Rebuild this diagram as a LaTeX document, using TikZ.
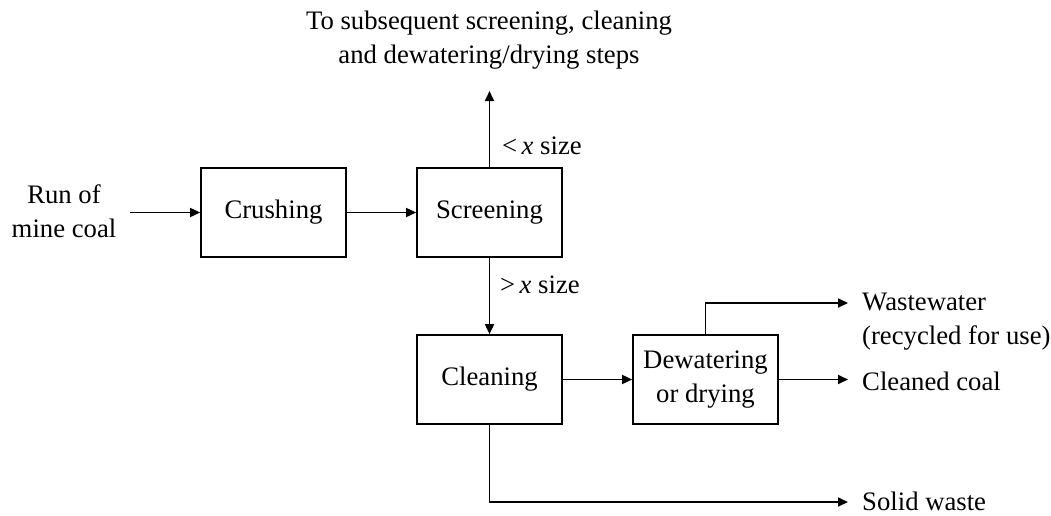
\documentclass[tikz,border=0pt]{standalone}
\usepackage{fontspec}
\setmainfont{Liberation Serif}
\usetikzlibrary{arrows.meta}
\begin{document}
\begin{tikzpicture}[x=1pt,y=-1pt,
  font=\fontsize{26.7}{34}\selectfont,
  procbox/.style={draw, line width=1.7pt, minimum width=145pt, minimum height=89pt, inner sep=0pt, align=center},
  flow/.style={line width=1.7pt, -{Triangle[length=10pt,width=9pt]}},
  plainline/.style={line width=1.7pt},
  lbl/.style={inner sep=0pt}]
\useasboundingbox (0,0) rectangle (1051,515);

% process boxes
\node[procbox] (crushing) at (273.5,212.5) {Crushing};
\node[procbox] (screening) at (489.5,212.5) {Screening};
\node[procbox] (cleaning) at (489.5,379.5) {Cleaning};
\node[procbox] (dewater) at (705.5,379.5) {Dewatering\\or drying};

% texts
\node[lbl, align=center, inner xsep=14pt] (runof) at (64,211) {Run of\\mine coal};
\node[lbl, align=center, anchor=north] (subseq) at (489,11) {To subsequent screening, cleaning\\and dewatering/drying steps};
\node[lbl, anchor=base west] (small) at (502,154) {<\,\textit{x} size};
\node[lbl, anchor=base west] (large) at (500,293) {>\,\textit{x} size};
\node[lbl, align=left, anchor=north west] (waste) at (862,293) {Wastewater\\(recycled for use)};
\node[lbl, anchor=base west] (clean) at (862,390) {Cleaned coal};
\node[lbl, anchor=base west] (solid) at (862,510) {Solid waste};

% connector end points
\coordinate (topend) at (489.5,91);
\coordinate (wwend) at (848,303);
\coordinate (ccend) at (848,379.5);
\coordinate (swend) at (848,502);

% connectors
\draw[flow] (runof.east |- crushing.west) -- (crushing.west);
\draw[flow] (crushing.east) -- (screening.west);
\draw[flow] (screening.north) -- (topend);
\draw[flow] (screening.south) -- (cleaning.north);
\draw[flow] (cleaning.east) -- (dewater.west);
\draw[flow] (dewater.north) |- (wwend);
\draw[flow] (dewater.east) -- (ccend);
\draw[flow] (cleaning.south) |- (swend);
\end{tikzpicture}
\end{document}
